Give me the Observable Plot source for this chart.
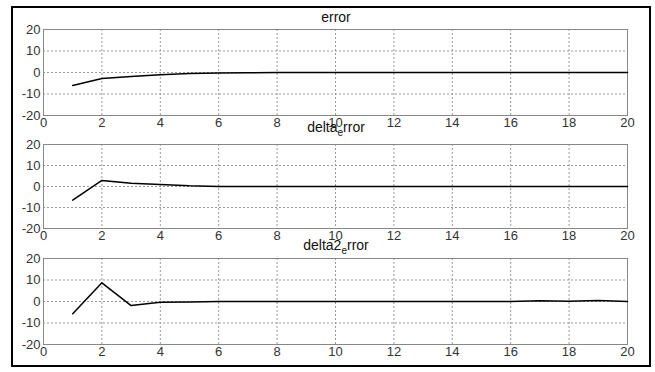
<!DOCTYPE html>
<html><head><meta charset="utf-8">
<script src="https://cdn.jsdelivr.net/npm/d3@7"></script>
<script src="https://cdn.jsdelivr.net/npm/@observablehq/plot@0.6"></script>
<style>
body{margin:0;background:#fff;}
#wrap{position:relative;width:655px;height:372px;overflow:hidden;font-family:"Liberation Sans",Arial,sans-serif;background:#fff;}
#frame{position:absolute;left:11px;top:6px;width:640px;height:361px;border:2px solid #000;box-sizing:border-box;}
.sub{position:absolute;left:0;}
</style></head><body><div id="wrap"><div id="frame"></div></div>
<script>
// time steps
const t = [1,2,3,4,5,6,7,8,9,10,11,12,13,14,15,16,17,18,19,20];
// series values
const errorVals   = [-6, -2.8, -1.9, -1, -0.5, -0.2, -0.1, 0, 0, 0, 0, 0, 0, 0, 0, 0, 0, 0, 0, 0];
const deltaErrVals = [-6.5, 2.9, 1.6, 1, 0.3, 0, 0, 0, 0, 0, 0, 0, 0, 0, 0, 0, 0, 0, 0, 0];
const delta2ErrVals = [-5.7, 8.7, -1.9, -0.4, -0.2, 0, 0, 0, 0, 0, 0, 0, 0, 0, 0, 0, 0.4, 0.1, 0.5, 0];
// tick labels
const xTicks = [0,2,4,6,8,10,12,14,16,18,20];
const yTicks = [-20,-10,0,10,20];
const gridX = [2,4,6,8,10,12,14,16,18];
const gridY = [-10,0,10];
// titles (parts: [text, isSubscript])
const titles = [
  [["error", false]],
  [["delta", false], ["e", true], ["rror", false]],
  [["delta2", false], ["e", true], ["rror", false]]
];
const series = [errorVals, deltaErrVals, delta2ErrVals];
const layout = [
  {top: 0,   height: 135, mt: 29, mb: 20, ty: 22},
  {top: 120, height: 125, mt: 24, mb: 17, ty: 12},
  {top: 235, height: 137, mt: 23, mb: 28, ty: 15}
];
const wrap = document.getElementById("wrap");
const font = '"Liberation Sans", Arial, sans-serif';
series.forEach((vals, i) => {
  const L = layout[i];
  const data = t.map((x, j) => ({x, y: vals[j]}));
  const svg = Plot.plot({
    width: 655, height: L.height,
    marginLeft: 43, marginRight: 28, marginTop: L.mt, marginBottom: L.mb,
    style: {background: "transparent", overflow: "visible", fontFamily: font, fontSize: "13px", color: "#333"},
    x: {domain: [0, 20], ticks: xTicks, tickFormat: d => String(d), tickSize: 0, tickPadding: 2, label: null},
    y: {domain: [-20, 20], ticks: yTicks, tickFormat: d => String(d), tickSize: 0, tickPadding: 3, label: null},
    marks: [
      Plot.ruleX(gridX, {stroke: "#999", strokeDasharray: "2,2", strokeOpacity: 1}),
      Plot.ruleY(gridY, {stroke: "#999", strokeDasharray: "2,2", strokeOpacity: 1}),
      Plot.frame({stroke: "#888"}),
      Plot.line(data, {x: "x", y: "y", stroke: "#000", strokeWidth: 1.5})
    ]
  });
  svg.classList.add("sub");
  svg.style.top = L.top + "px";
  const s = d3.select(svg);
  const txt = s.append("text")
    .attr("x", 336).attr("y", L.ty)
    .attr("text-anchor", "middle")
    .attr("font-family", font).attr("font-size", 14).attr("fill", "#111");
  titles[i].forEach(([str, sub]) => {
    const ts = txt.append("tspan").text(str);
    if (sub) ts.attr("font-size", 10).attr("dy", 4);
    else if (txt.selectAll("tspan").size() > 1) ts.attr("dy", -4);
  });
  wrap.appendChild(svg);
});
</script>
</body></html>
